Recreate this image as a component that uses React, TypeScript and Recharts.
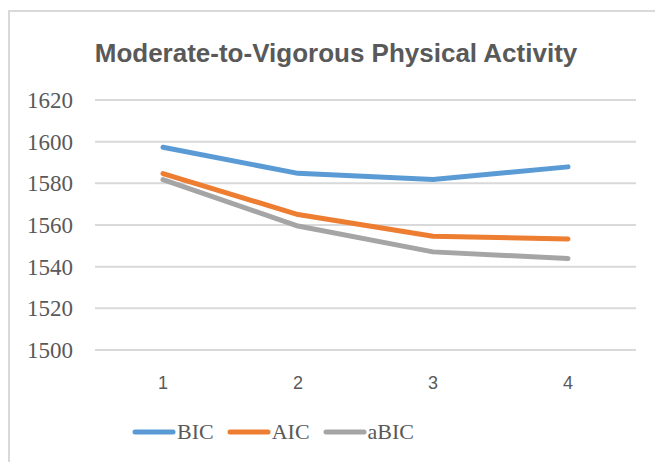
import React from 'react';
import { LineChart, Line, XAxis, YAxis, CartesianGrid, Legend } from 'recharts';

const classes = ['1', '2', '3', '4'];
const bic = [1597.3, 1584.8, 1581.8, 1587.9];
const aic = [1584.7, 1565.0, 1554.6, 1553.3];
const abic = [1581.8, 1559.5, 1547.1, 1543.9];
const yTicks = [1500, 1520, 1540, 1560, 1580, 1600, 1620];

const series = [
  { key: 'BIC', color: '#5B9BD5' },
  { key: 'AIC', color: '#ED7D31' },
  { key: 'aBIC', color: '#A5A5A5' },
];

const data = classes.map((c, i) => ({ c, BIC: bic[i], AIC: aic[i], aBIC: abic[i] }));

const TEXT = '#595959';
const SERIF = '"Liberation Serif", "Times New Roman", serif';
const SANS = '"Liberation Sans Narrow", "Liberation Sans", Arial, sans-serif';

const YTick = (props: any) => (
  <text x={props.x} y={props.y} dy={8} textAnchor="end" fill={TEXT} fontFamily={SERIF} fontSize={23}>
    {props.payload.value}
  </text>
);

const XTick = (props: any) => (
  <text x={props.x} y={props.y} dy={13} textAnchor="middle" fill={TEXT} fontFamily={SANS} fontSize={18}>
    {props.payload.value}
  </text>
);

const LegendRow = () => (
  <div style={{ display: 'flex', alignItems: 'center', fontFamily: SERIF, fontSize: 22, color: TEXT }}>
    {series.map((s) => (
      <div key={s.key} style={{ display: 'flex', alignItems: 'center', marginRight: 12 }}>
        <svg width={46} height={10}>
          <line x1={4} y1={5} x2={42} y2={5} stroke={s.color} strokeWidth={5} strokeLinecap="round" />
        </svg>
        <span>{s.key}</span>
      </div>
    ))}
  </div>
);

export default function App() {
  return (
    <div style={{ position: 'fixed', left: 0, top: 0, width: 655, height: 462, background: '#fff', overflow: 'hidden' }}>
      <div style={{ position: 'absolute', left: 8, top: 10, width: 700, height: 500, borderTop: '2px solid #D9D9D9', borderLeft: '2px solid #D9D9D9' }} />
      <div style={{ position: 'absolute', left: 0, top: 38, width: 672, textAlign: 'center', fontFamily: '"Liberation Sans", Arial, sans-serif', fontWeight: 'bold', fontSize: 26, color: TEXT }}>
        Moderate-to-Vigorous Physical Activity
      </div>
      <div style={{ position: 'absolute', left: 0, top: 0 }}>
        <LineChart width={655} height={462} data={data} margin={{ top: 100, right: 19, left: 0, bottom: 56 }}>
          <CartesianGrid horizontal vertical={false} stroke="#D9D9D9" strokeWidth={2} />
          <XAxis dataKey="c" axisLine={false} tickLine={false} height={30} tickMargin={20} padding={{ left: 68, right: 68 }}
            tick={<XTick />} />
          <YAxis domain={[1500, 1620]} ticks={yTicks} axisLine={false} tickLine={false} width={95} tickMargin={16}
            tick={<YTick />} />
          <Legend layout="vertical" align="center" verticalAlign="bottom" content={() => <LegendRow />}
            wrapperStyle={{ left: 131, top: 419, width: 320 }} />
          {series.map((s) => (
            <Line key={s.key} type="linear" dataKey={s.key} stroke={s.color} strokeWidth={5} dot={false}
              strokeLinecap="round" strokeLinejoin="round" isAnimationActive={false} />
          ))}
        </LineChart>
      </div>
    </div>
  );
}
